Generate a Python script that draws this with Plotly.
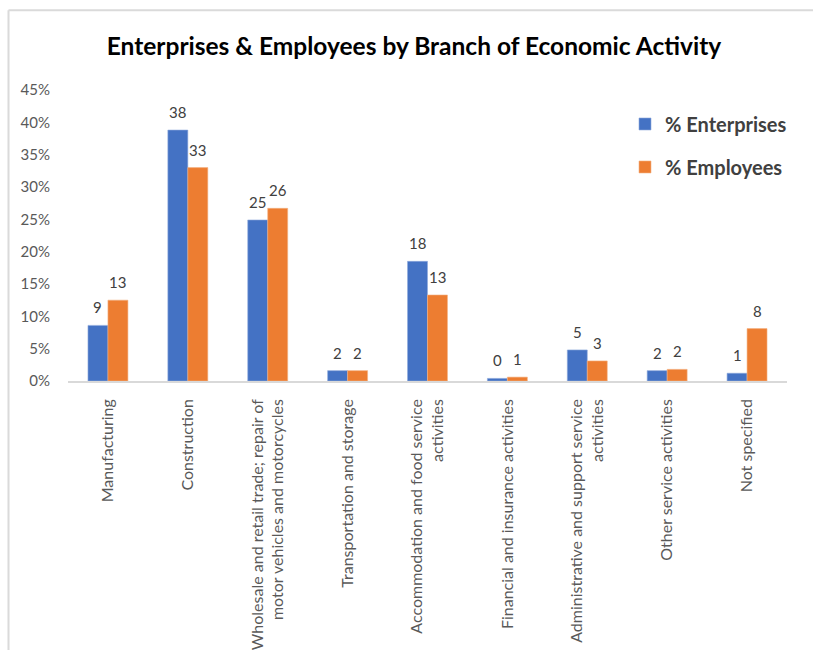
import plotly.graph_objects as go

categories = [
    "Manufacturing",
    "Construction",
    "Wholesale and retail trade; repair of<br>motor vehicles and motorcycles",
    "Transportation and storage",
    "Accommodation and food service<br>activities",
    "Financial and insurance activities",
    "Administrative and support service<br>activities",
    "Other service activities",
    "Not specified",
]
enterprises = [8.6, 38.8, 24.9, 1.6, 18.5, 0.4, 4.8, 1.6, 1.2]
employees = [12.5, 33.0, 26.7, 1.6, 13.3, 0.6, 3.1, 1.8, 8.1]
enterprises_labels = ["9", "38", "25", "2", "18", "0", "5", "2", "1"]
employees_labels = ["13", "33", "26", "2", "13", "1", "3", "2", "8"]
yticks = [0, 5, 10, 15, 20, 25, 30, 35, 40, 45]

FONT = "Lato"
W, H = 813, 650
ML, MR, MT, MB = 68, 26, 89.5, 269

fig = go.Figure()
fig.add_trace(go.Bar(
    x=categories, y=enterprises, name="% Enterprises",
    marker=dict(color="#4472C4", line=dict(color="#8FAADC", width=0.6)),
    legendgroup="a",
))
fig.add_trace(go.Bar(
    x=categories, y=employees, name="% Employees",
    marker=dict(color="#ED7D31", line=dict(color="#F4B183", width=0.6)),
    legendgroup="b",
))

# data labels above bars
for series, labels, dx in ((enterprises, enterprises_labels, -10),
                           (employees, employees_labels, 10)):
    for cat, val, lab in zip(categories, series, labels):
        fig.add_annotation(
            x=cat, y=val, text=lab, showarrow=False,
            xanchor="center", yanchor="bottom", xshift=dx, yshift=7,
            font=dict(family=FONT, size=15, color="#404040"),
        )

pw = W - ML - MR
ph = H - MT - MB
def px_x(p):
    return (p - ML) / pw
def px_y(p):
    return (H - MB - p) / ph

# chart frame (light gray border, cropped on right/bottom)
fig.add_shape(type="line", xref="paper", yref="paper",
              x0=px_x(8.5), x1=px_x(8.5), y0=px_y(9.5), y1=px_y(660),
              line=dict(color="#DADADA", width=2))
fig.add_shape(type="line", xref="paper", yref="paper",
              x0=px_x(8.5), x1=px_x(830), y0=px_y(9.5), y1=px_y(9.5),
              line=dict(color="#DADADA", width=2))

fig.update_layout(
    width=W, height=H,
    margin=dict(l=ML, r=MR, t=MT, b=MB, autoexpand=False),
    paper_bgcolor="white", plot_bgcolor="white",
    barmode="group", bargap=0.5, bargroupgap=0,
    title=dict(
        text="<b>Enterprises & Employees by Branch of Economic Activity</b>",
        x=px_x(414), xanchor="center", xref="paper", y=1 - 46 / H, yanchor="middle",
        yref="container",
        font=dict(family=FONT, size=24.5, color="#000000"),
    ),
    font=dict(family=FONT, color="#595959"),
    legend=dict(
        x=px_x(625), y=px_y(104), xanchor="left", yanchor="top",
        font=dict(family=FONT, size=20, color="#404040", weight="bold"),
        bgcolor="rgba(0,0,0,0)", tracegroupgap=14, traceorder="grouped",
        itemwidth=30,
    ),
    showlegend=True,
)
fig.update_xaxes(
    tickangle=-90, tickfont=dict(family=FONT, size=16, color="#595959"),
    showline=True, linecolor="#D9D9D9", linewidth=1.5,
    ticks="outside", ticklen=10, tickcolor="rgba(0,0,0,0)", showgrid=False,
)
fig.update_yaxes(
    range=[0, 45], tickvals=yticks, ticktext=[f"{v}%" for v in yticks],
    tickfont=dict(family=FONT, size=15, color="#595959"),
    showgrid=False, zeroline=False, showline=False,
    ticks="outside", ticklen=14, tickcolor="rgba(0,0,0,0)",
)

fig.write_html("out.html")
